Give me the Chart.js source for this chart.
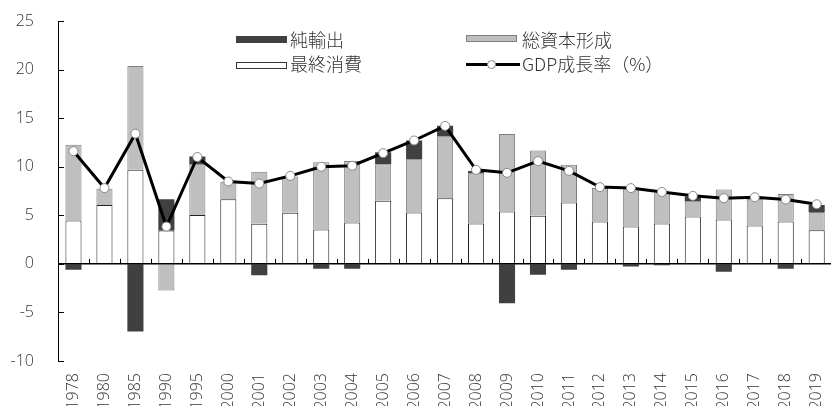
<!DOCTYPE html>
<html>
<head>
<meta charset="utf-8">
<script src="https://cdn.jsdelivr.net/npm/chart.js@4.4.1/dist/chart.umd.min.js"></script>
<style>
  body { margin: 0; background: #fff; overflow: hidden; }
  #wrap { position: absolute; left: 0; top: 0; width: 840px; height: 406px; }
  .lg { position: absolute; font-family: "Noto Sans CJK JP", "Open Sans", sans-serif; font-weight: 300; font-size: 18px; color: #333; line-height: 20px; white-space: nowrap; }
  .box { position: absolute; height: 7px; width: 51px; box-sizing: border-box; }
</style>
</head>
<body>
<div id="wrap"><canvas id="chart"></canvas></div>

<!-- legend -->
<div class="box" style="left:236px;top:36px;background:#404040;"></div>
<div class="lg" style="left:290px;top:29px;">純輸出</div>
<div class="box" style="left:466px;top:35px;background:#bfbfbf;border:1px solid #7f7f7f;"></div>
<div class="lg" style="left:522px;top:29px;">総資本形成</div>
<div class="box" style="left:236px;top:62px;background:#fff;border:1px solid #333;"></div>
<div class="lg" style="left:290px;top:53px;">最終消費</div>
<div style="position:absolute;left:466px;top:63px;width:54px;height:3px;background:#000;"></div>
<div style="position:absolute;left:487px;top:60px;width:9px;height:9px;border-radius:50%;background:#fff;border:1px solid #888;box-sizing:border-box;"></div>
<div class="lg" style="left:522px;top:53px;">GDP成長率（%）</div>

<script>
document.addEventListener("DOMContentLoaded", () => {
    const years = ['1978', '1980', '1985', '1990', '1995', '2000', '2001', '2002', '2003', '2004',
        '2005', '2006', '2007', '2008', '2009', '2010', '2011', '2012', '2013', '2014',
        '2015', '2016', '2017', '2018', '2019'];

    // 最終消費
    const consumption = [4.46, 6.07, 9.68, 3.43, 5.04, 6.66, 4.12, 5.25, 3.53, 4.26,
        6.49, 5.28, 6.76, 4.15, 5.39, 4.94, 6.31, 4.36, 3.84, 4.15,
        4.87, 4.56, 3.95, 4.36, 3.47];
    // 総資本形成
    const capital = [7.8, 1.65, 10.7, -2.75, 5.2, 1.78, 5.35, 3.75, 6.94, 6.34,
        3.77, 5.46, 6.35, 5.15, 7.99, 6.73, 3.88, 3.46, 3.85, 3.13,
        1.55, 3.09, 2.67, 2.84, 1.88];
    // 純輸出
    const netExports = [-0.6, 0, -6.97, 3.23, 0.8, 0, -1.17, 0, -0.5, -0.5,
        1.24, 1.96, 1.1, 0.27, -4.05, -1.13, -0.6, 0, -0.27, -0.15,
        0.51, -0.82, 0.24, -0.5, 0.72];
    // GDP成長率（%）
    const gdpGrowth = [11.6, 7.8, 13.4, 3.84, 11.0, 8.48, 8.27, 9.06, 10.0, 10.1,
        11.4, 12.7, 14.2, 9.68, 9.37, 10.57, 9.57, 7.9, 7.8, 7.4,
        7.0, 6.76, 6.86, 6.62, 6.14];

    const yTicks = [-10, -5, 0, 5, 10, 15, 20, 25];

    Chart.defaults.font.family = '"Open Sans", "Noto Sans CJK JP", sans-serif';
    Chart.defaults.font.size = 16;
    Chart.defaults.font.weight = '300';
    Chart.defaults.color = '#333';

    // zero line, inward y ticks and category ticks on the zero line
    const axisMarks = {
        id: 'axisMarks',
        afterDatasetsDraw(chart) {
            const { ctx, chartArea, scales } = chart;
            const x = scales.x, y = scales.y;
            const y0 = y.getPixelForValue(0);
            ctx.save();
            ctx.strokeStyle = '#000';
            ctx.lineWidth = 1;
            yTicks.forEach(v => {
                const py = Math.round(y.getPixelForValue(v)) + 0.5;
                ctx.beginPath();
                ctx.moveTo(chartArea.left, py);
                ctx.lineTo(chartArea.left + 6, py);
                ctx.stroke();
            });
            for (let i = 1; i <= years.length; i++) {
                const px = Math.round(x.getPixelForValue(i - 0.5)) + 0.5;
                ctx.beginPath();
                ctx.moveTo(px, y0);
                ctx.lineTo(px, y0 - 5);
                ctx.stroke();
            }
            ctx.lineWidth = 1.5;
            ctx.beginPath();
            ctx.moveTo(chartArea.left, y0);
            ctx.lineTo(chartArea.right, y0);
            ctx.stroke();
            ctx.restore();
        }
    };

    const barBase = { type: 'bar', order: 2, stack: 'gdp', borderWidth: 1, barPercentage: 0.52, categoryPercentage: 1 };

    new Chart(document.getElementById('chart'), {
        data: {
            labels: years,
            datasets: [
                { ...barBase, label: '最終消費', data: consumption, backgroundColor: '#ffffff', borderColor: '#222' },
                { ...barBase, label: '総資本形成', data: capital, backgroundColor: '#bfbfbf', borderColor: '#7f7f7f' },
                { ...barBase, label: '純輸出', data: netExports, backgroundColor: '#404040', borderColor: '#404040', borderWidth: 0 },
                {
                    type: 'line', order: 1, stack: 'line', label: 'GDP成長率（%）', data: gdpGrowth,
                    borderColor: '#000', borderWidth: 3, tension: 0,
                    pointRadius: 4.5, pointBackgroundColor: '#fff', pointBorderColor: '#888', pointBorderWidth: 1
                }
            ]
        },
        options: {
            responsive: true,
            maintainAspectRatio: false,
            animation: false,
            layout: { padding: { top: 21, right: 2, left: 0, bottom: 0 } },
            plugins: {
                legend: { display: false },
                tooltip: { enabled: false }
            },
            scales: {
                x: {
                    stacked: true,
                    grid: { display: false },
                    border: { display: false },
                    ticks: { minRotation: 90, maxRotation: 90, padding: 4, autoSkip: false },
                    afterFit(scale) { scale.height = 45; }
                },
                y: {
                    stacked: true,
                    min: -10,
                    max: 25,
                    grid: { drawOnChartArea: false, drawTicks: true, tickLength: 22, tickColor: 'rgba(0,0,0,0)' },
                    border: { display: true, color: '#000', width: 1 },
                    ticks: { stepSize: 5, padding: 2 },
                    afterFit(scale) { scale.width = 58; }
                }
            }
        },
        plugins: [axisMarks]
    });
});
</script>
</body>
</html>
